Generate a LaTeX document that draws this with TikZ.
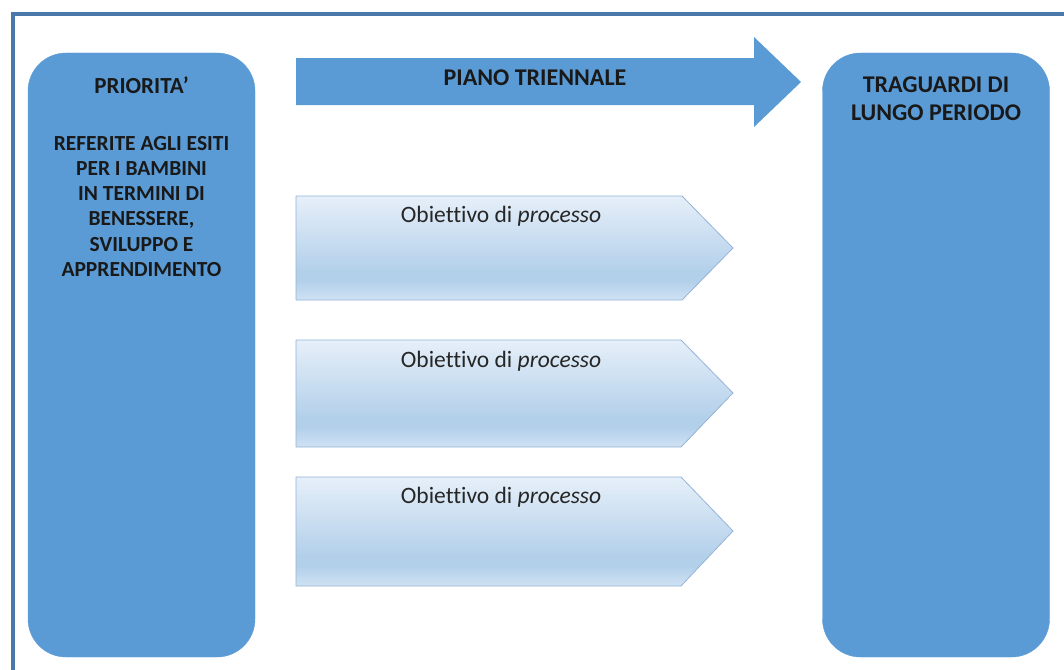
\documentclass[tikz,border=0pt]{standalone}
\usepackage{fontspec}
\setmainfont{Carlito}[Ligatures={TeX,NoCommon}]
\usetikzlibrary{positioning}
\definecolor{boxblue}{HTML}{5B9BD5}
\definecolor{frameblue}{HTML}{4A78AA}
\definecolor{objedge}{HTML}{95B3D7}
\definecolor{objtop}{HTML}{E6EFF9}
\definecolor{objmid}{HTML}{B3D0EA}
\definecolor{objbot}{HTML}{D0E2F3}
\pgfdeclareverticalshading{objshade}{100bp}{color(0bp)=(objbot); color(25bp)=(objbot); color(34bp)=(objmid); color(39bp)=(objmid); color(75bp)=(objtop); color(100bp)=(objtop)}
\tikzstyle{frame}=[draw=frameblue, line width=3.2pt]
\tikzstyle{bigbox}=[rectangle, rounded corners=38pt, fill=boxblue, draw=boxblue, minimum width=227pt, minimum height=604pt, inner sep=0pt]
\tikzstyle{boxtext}=[font=\bfseries\fontsize{21.5}{25.3}\selectfont, align=center, inner sep=0pt, anchor=north, text=black!90]
\tikzstyle{headtext}=[font=\bfseries\fontsize{24}{28}\selectfont, inner sep=0pt, anchor=base, text=black!90]
\tikzstyle{objarrow}=[shade, shading=objshade, draw=objedge, line width=0.8pt]
\tikzstyle{objtext}=[font=\fontsize{23.5}{26}\selectfont, inner sep=0pt, anchor=base, text=black!85]

\begin{document}
\begin{tikzpicture}[x=1pt, y=-1pt]
  \useasboundingbox (0,0) rectangle (1064,669);
  \draw[frame] (13,14) rectangle (1100,720);

  % side boxes
  \node[bigbox] (prio) at (141.5,355) {};
  \node[bigbox] (trag) at (936,355) {};
  \node[boxtext, below=24pt of prio.north] (priotext) {{\fontsize{23}{25.3}\selectfont PRIORITA'}\\[31pt]
    REFERITE AGLI ESITI\\PER I BAMBINI\\IN TERMINI DI\\BENESSERE,\\SVILUPPO E\\APPRENDIMENTO};
  \node[boxtext, font=\bfseries\fontsize{24}{28}\selectfont, below=24pt of trag.north] (tragtext) {TRAGUARDI DI\\LUNGO PERIODO};

  % piano triennale
  \fill[boxblue] (296,58) -- (754,58) -- (754,37) -- (801,82) -- (754,127) -- (754,105) -- (296,105) -- cycle;
  \node[headtext] (piano) at (535,85) {PIANO TRIENNALE};

  % obiettivi
  \path[objarrow] (296,196) -- (682,196) -- (733,248) -- (682,300) -- (296,300) -- cycle;
  \node[objtext] (obj1) at (501,222) {Obiettivo di \emph{processo}};
  \path[objarrow] (296,340) -- (681,340) -- (733,393) -- (681,447) -- (296,447) -- cycle;
  \node[objtext] (obj2) at (501,367) {Obiettivo di \emph{processo}};
  \path[objarrow] (296,477) -- (681,477) -- (733,531) -- (681,586) -- (296,586) -- cycle;
  \node[objtext] (obj3) at (501,503) {Obiettivo di \emph{processo}};
\end{tikzpicture}
\end{document}
